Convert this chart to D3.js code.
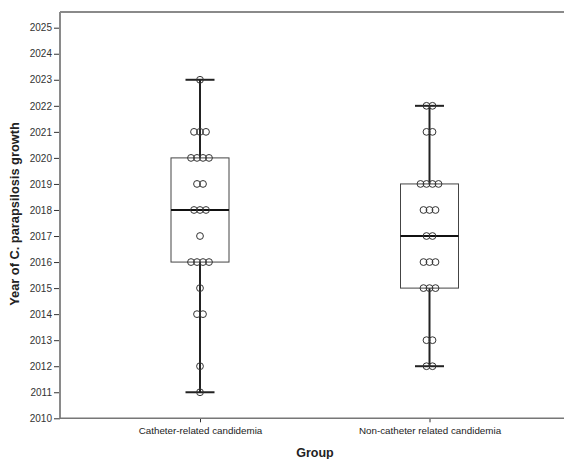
<!DOCTYPE html>
<html><head><meta charset="utf-8">
<script src="https://cdn.jsdelivr.net/npm/d3@7"></script>
<style>body{margin:0;background:#fff;}svg{display:block;font-family:"Liberation Sans",Arial,sans-serif;}</style>
</head><body>
<svg id="c" width="564" height="459"></svg>
<script>
const categories = ["Catheter-related candidemia", "Non-catheter related candidemia"];
// individual observations (years) per group
const catheterYears = [2023,2021,2021,2021,2020,2020,2020,2020,2019,2019,2018,2018,2018,2017,2016,2016,2016,2016,2015,2014,2014,2012,2011];
const nonCatheterYears = [2022,2022,2021,2021,2019,2019,2019,2019,2018,2018,2018,2017,2017,2016,2016,2016,2015,2015,2015,2013,2013,2012,2012];
// box stats: [min, q1, median, q3, max]
const boxStats = [[2011,2016,2018,2020,2023],[2012,2015,2017,2019,2022]];
const yTicks = d3.range(2010, 2026);

(function(){
const svg = d3.select("#c");
const pLeft = 60, pRight = 564, pTop = 12, pBottom = 418.3;
const y = d3.scaleLinear().domain([2010, 2025]).range([pBottom, 27.7]);
const x = d3.scalePoint().domain(categories).range([200, 429.5]);

svg.append("line").attr("x1", pLeft).attr("x2", pRight).attr("y1", pTop).attr("y2", pTop)
  .attr("stroke", "#8a8a8a").attr("stroke-width", 2);

const yAxis = d3.axisLeft(y).tickValues(yTicks).tickFormat(d3.format("d")).tickSize(6).tickPadding(2);
const gy = svg.append("g").attr("transform", `translate(${pLeft},0)`).call(yAxis);
gy.select(".domain").remove();
gy.append("line").attr("x1", 0).attr("x2", 0).attr("y1", pTop).attr("y2", pBottom).attr("stroke", "#8a8a8a").attr("stroke-width", 2);
gy.selectAll(".tick line").attr("stroke", "#333");
gy.selectAll(".tick text").attr("fill", "#333").style("font-size", "10px").style("font-family", "Liberation Sans, Arial, sans-serif");

const xAxis = d3.axisBottom(x).tickSize(4).tickPadding(5);
const gx = svg.append("g").attr("transform", `translate(0,${pBottom})`).call(xAxis);
gx.select(".domain").remove();
gx.append("line").attr("x1", pLeft).attr("x2", pRight).attr("y1", 0).attr("y2", 0).attr("stroke", "#777").attr("stroke-width", 1.5);
gx.selectAll(".tick line").attr("stroke", "#333");
gx.selectAll(".tick text").attr("fill", "#222").style("font-size", "9.8px").style("font-family", "Liberation Sans, Arial, sans-serif");

svg.append("text").attr("x", 315).attr("y", 457).attr("text-anchor", "middle")
  .style("font-weight", "bold").style("font-size", "12.5px").attr("fill", "#222").text("Group");
svg.append("text").attr("transform", "translate(19,214) rotate(-90)").attr("text-anchor", "middle")
  .style("font-weight", "bold").style("font-size", "12.8px").attr("fill", "#222").text("Year of C. parapsilosis growth");

const boxW = 58, capW = 29;
boxStats.forEach((s, i) => {
  const cx = x(categories[i]);
  const g = svg.append("g");
  g.append("line").attr("x1", cx).attr("x2", cx).attr("y1", y(s[0])).attr("y2", y(s[1])).attr("stroke", "#222").attr("stroke-width", 2);
  g.append("line").attr("x1", cx).attr("x2", cx).attr("y1", y(s[3])).attr("y2", y(s[4])).attr("stroke", "#222").attr("stroke-width", 2);
  [s[0], s[4]].forEach(v => g.append("line").attr("x1", cx - capW/2).attr("x2", cx + capW/2).attr("y1", y(v)).attr("y2", y(v)).attr("stroke", "#222").attr("stroke-width", 2));
  g.append("rect").attr("x", cx - boxW/2).attr("y", y(s[3])).attr("width", boxW).attr("height", y(s[1]) - y(s[3]))
    .attr("fill", "none").attr("stroke", "#444").attr("stroke-width", 1);
  g.append("line").attr("x1", cx - boxW/2).attr("x2", cx + boxW/2).attr("y1", y(s[2])).attr("y2", y(s[2])).attr("stroke", "#111").attr("stroke-width", 2);
});

[catheterYears, nonCatheterYears].forEach((arr, i) => {
  const cx = x(categories[i]);
  const counts = d3.rollup(arr, v => v.length, d => d);
  const pts = [];
  counts.forEach((n, yr) => { for (let k = 0; k < n; k++) pts.push({yr, off: (k - (n - 1) / 2) * 6}); });
  svg.append("g").selectAll("circle").data(pts).join("circle")
    .attr("cx", d => cx + d.off).attr("cy", d => y(d.yr)).attr("r", 3.4)
    .attr("fill", "none").attr("stroke", "#333").attr("stroke-width", 1);
});
})();
</script>
</body></html>
